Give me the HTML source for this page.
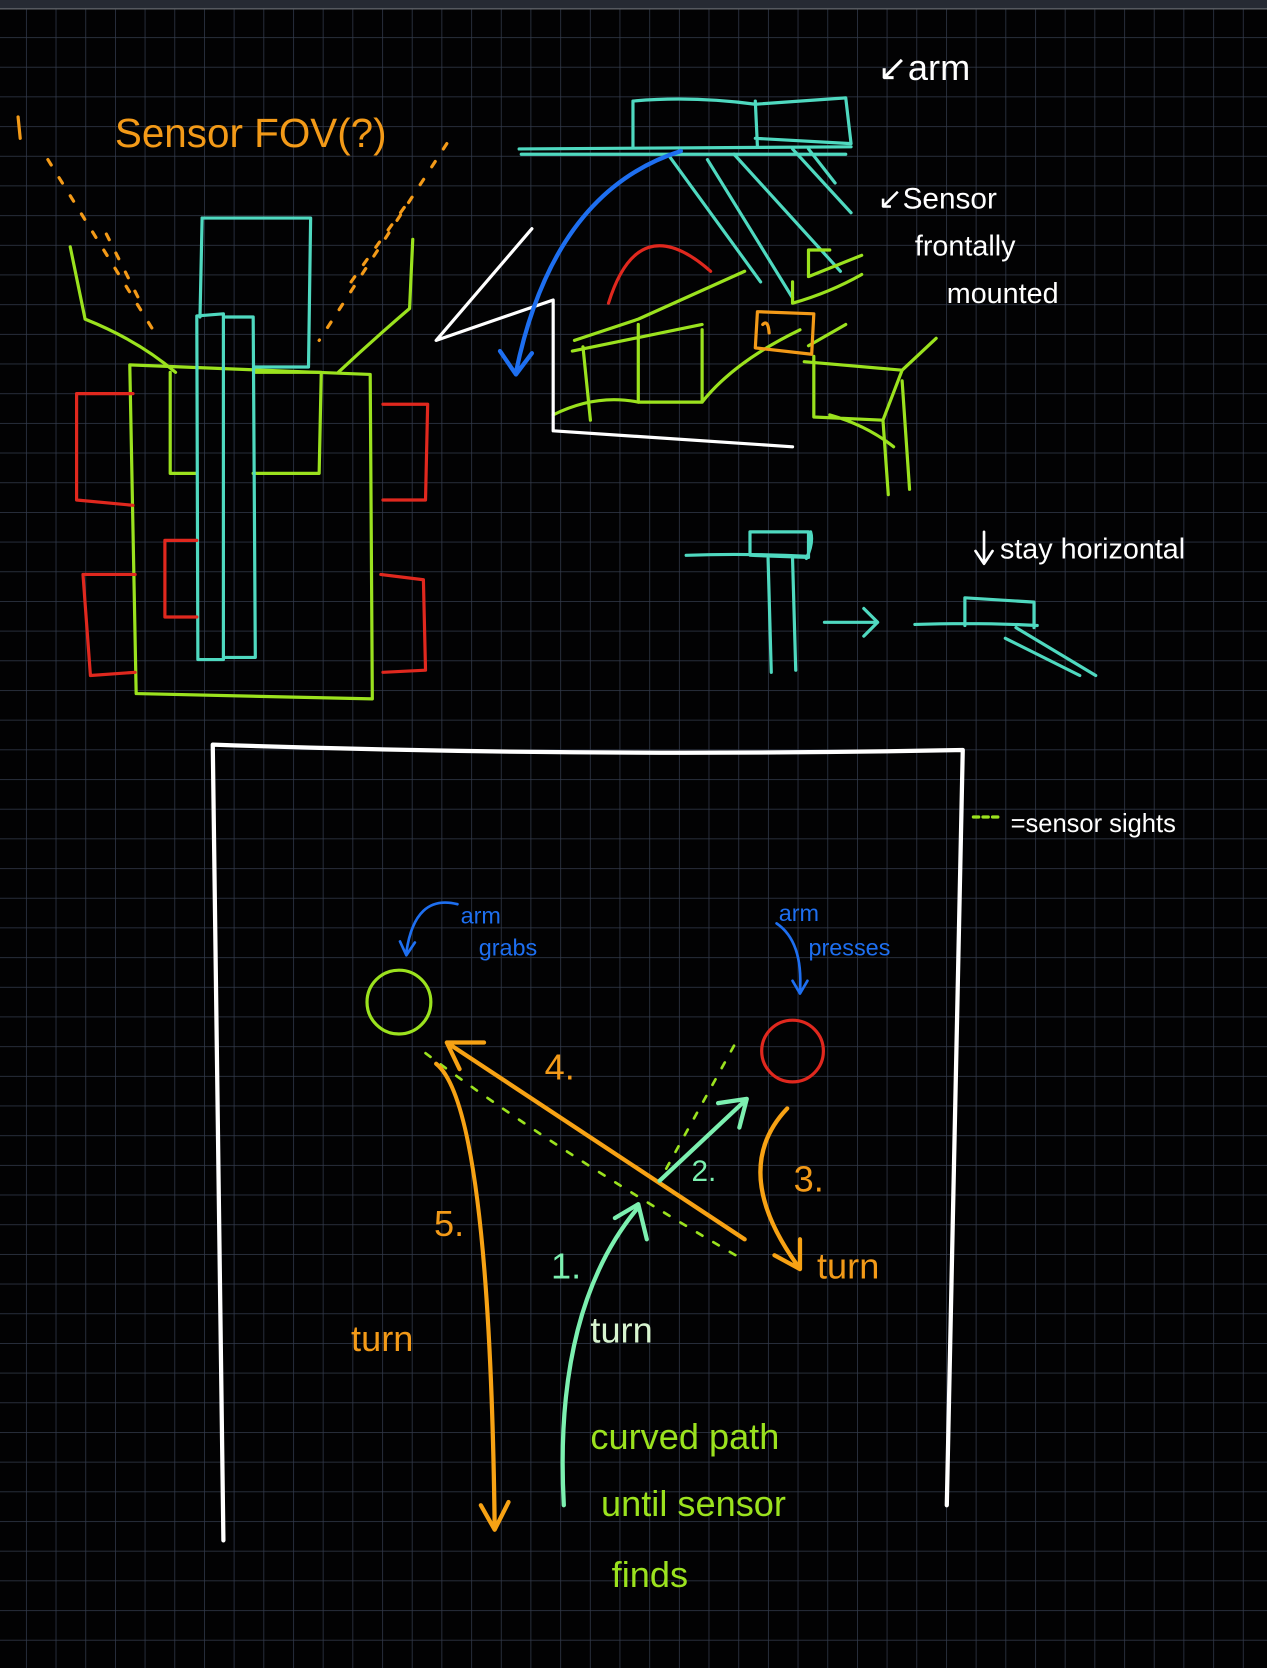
<!DOCTYPE html>
<html><head><meta charset="utf-8"><style>
html,body{margin:0;padding:0;background:#000;}
svg{display:block;}
text{font-family:"Liberation Sans",sans-serif;}
</style></head><body>
<svg width="1267" height="1668" viewBox="0 0 1191 1568" preserveAspectRatio="none" xmlns="http://www.w3.org/2000/svg">
<defs>
<pattern id="g" x="24.4" y="7" width="27.9" height="27.9" patternUnits="userSpaceOnUse">
<path d="M0 0V27.9M0 0H27.9" stroke="#333b4c" stroke-width="1.4" fill="none"/>
</pattern>
</defs>
<rect width="1191" height="1568" fill="#020203"/>
<rect width="1191" height="1568" fill="url(#g)"/>
<rect width="1191" height="7.5" fill="#262a33"/>
<rect y="7.5" width="1191" height="1.5" fill="#55585e"/>

<g fill="none" stroke-linecap="round" stroke-linejoin="round" stroke-width="3">
<g stroke="#9be21e">
<path d="M122 343 L348 352 L350 657 L128 652 Z"/>
<path d="M66 232 L80 300 Q130 320 165 350"/>
<path d="M388 225 L385 290 Q350 320 318 350"/>
<path d="M160 350 L160 445 L185 445"/>
<path d="M240 350 L302 350 L300 445 L238 445"/>
</g>
<g stroke="#4fd9c0">
<path d="M190 205 L292 205 L290 345 L240 345"/>
<path d="M190 205 L188 298"/>
<path d="M185 297 L210 295 L210 620 L186 620 Z"/>
<path d="M212 298 L238 298 L240 618 L212 618"/>
</g>
<g stroke="#e0281e">
<path d="M125 370 L72 370 L72 470 L125 475"/>
<path d="M127 540 L78 540 L85 635 L127 632"/>
<path d="M185 508 L155 508 L155 580 L185 580"/>
<path d="M360 380 L402 380 L400 470 L360 470"/>
<path d="M358 540 L398 545 L400 630 L360 632"/>
</g>
<g stroke="#f39a18" stroke-dasharray="6 14">
<path d="M45 150 L150 320"/><path d="M420 135 L300 320"/>
<path d="M100 220 L135 290"/><path d="M380 195 L330 265"/>
</g>
<path d="M17 110 L19 130" stroke="#f39a18"/>

<g stroke="#4fd9c0">
<path d="M595 95 L595 138 M595 95 Q650 90 710 98 L795 92 L800 135 L710 130 M710 95 L712 138"/>
<path d="M488 140 L800 138 M490 145 L795 145"/>
<path d="M665 150 L745 280 M630 148 L715 265 M690 145 L790 255 M745 140 L800 200 M760 140 L785 172"/>
</g>
<g stroke="#9be21e">
<path d="M780 235 L760 235 L760 260 L810 240"/>
<path d="M745 265 L745 285 Q780 275 810 258"/>
<path d="M540 320 L600 300 L700 255 M538 330 L660 305 M600 305 L600 378 L660 378 L660 310 M660 378 Q690 340 752 310"/>
<path d="M548 326 L555 395 M520 390 Q560 370 600 378"/>
<path d="M756 340 L848 348 L830 395 L765 392 L765 335 M848 348 L880 318 M848 358 L855 460 M830 395 L835 465 M780 390 Q815 400 840 420 M760 325 L795 305"/>
</g>
<path d="M712 293 L765 295 L763 333 L710 327 Z M717 305 q5 -5 6 8" stroke="#f39a18"/>
<path d="M500 215 L410 320 L520 282 L520 405 L745 420" stroke="#fff"/>
<path d="M640 142 Q520 180 485 350 M470 330 L485 352 L500 332" stroke="#1e6ff0" stroke-width="4"/>
<path d="M572 285 Q600 195 668 255" stroke="#e0281e"/>

<g stroke="#4fd9c0">
<path d="M645 522 Q700 520 760 523 M705 500 L760 500 L760 524 L705 522 Z M762 500 Q765 510 758 525"/>
<path d="M722 525 L725 632 M745 525 L748 630"/>
<path d="M775 585 L825 585 M812 572 L825 585 L812 598"/>
<path d="M860 587 Q920 585 975 588 M907 562 L972 566 L972 590 M907 562 L907 588 M955 590 L1030 635 M945 600 L1015 635"/>
</g>
<path d="M925 500 L925 528 M917 518 L925 530 L933 518" stroke="#fff" stroke-width="2.5"/>

<path d="M200 700 Q550 712 905 705 L890 1415 M200 700 L210 1448" stroke="#fff" stroke-width="4"/>
<path d="M915 768 L940 768" stroke="#9be21e" stroke-dasharray="5 4"/>
<circle cx="375" cy="942" r="30" stroke="#9be21e"/>
<circle cx="745" cy="988" r="29" stroke="#e0281e"/>
<path d="M430 850 Q390 840 382 895 M376 885 L382 898 L390 886" stroke="#1e6ff0" stroke-width="2.5"/>
<path d="M730 868 Q755 885 752 932 M745 922 L752 934 L759 922" stroke="#1e6ff0" stroke-width="2.5"/>
<g stroke="#9be21e" stroke-dasharray="6 12" stroke-width="2.5">
<path d="M400 990 Q520 1080 700 1185"/>
<path d="M690 983 L620 1110"/>
</g>
<g stroke="#f7a214" stroke-width="4">
<path d="M700 1165 L420 980 M420 980 L455 980 M420 980 L432 1005"/>
<path d="M410 1000 Q460 1040 465 1435 M452 1415 L465 1438 L478 1412"/>
<path d="M740 1042 Q685 1100 750 1190 M728 1180 L752 1193 L752 1165"/>
</g>
<g stroke="#7cf0b0" stroke-width="4">
<path d="M530 1415 Q520 1230 600 1135 M578 1145 L600 1132 L608 1165"/>
<path d="M620 1110 L700 1035 M675 1037 L702 1033 L695 1060"/>
</g>
</g>

<g font-size="34">
<text x="108" y="138" fill="#f39a18" font-size="38">Sensor FOV(?)</text>
<text x="825" y="75" fill="#fff">↙arm</text>
<text x="825" y="196" fill="#fff" font-size="28">↙Sensor</text>
<text x="860" y="240" fill="#fff" font-size="27">frontally</text>
<text x="890" y="285" fill="#fff" font-size="27">mounted</text>
<text x="940" y="525" fill="#fff" font-size="27">stay horizontal</text>
<text x="950" y="782" fill="#fff" font-size="24">=sensor sights</text>
<text x="433" y="868" fill="#1e6ff0" font-size="22">arm</text>
<text x="450" y="898" fill="#1e6ff0" font-size="22">grabs</text>
<text x="732" y="866" fill="#1e6ff0" font-size="22">arm</text>
<text x="760" y="898" fill="#1e6ff0" font-size="22">presses</text>
<text x="512" y="1015" fill="#f39a18">4.</text>
<text x="408" y="1162" fill="#f39a18">5.</text>
<text x="330" y="1270" fill="#f39a18">turn</text>
<text x="650" y="1110" fill="#7cf0b0" font-size="28">2.</text>
<text x="746" y="1120" fill="#f39a18">3.</text>
<text x="768" y="1202" fill="#f39a18">turn</text>
<text x="518" y="1202" fill="#7cf0b0">1.</text>
<text x="555" y="1262" fill="#d8f5d0">turn</text>
<text x="555" y="1362" fill="#9be21e">curved path</text>
<text x="565" y="1425" fill="#9be21e">until sensor</text>
<text x="575" y="1492" fill="#9be21e">finds</text>
</g>
</svg>
</body></html>
